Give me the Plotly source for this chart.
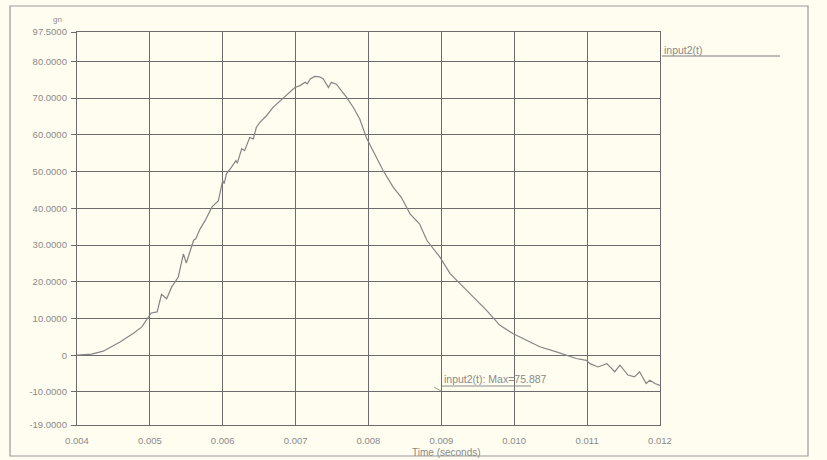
import plotly.graph_objects as go

# Time (seconds) and acceleration (gn)
time_s = [0.00400, 0.00420, 0.00436, 0.00459, 0.00477, 0.00489, 0.00498, 0.00502, 0.00510, 0.00516,
          0.00523, 0.00530, 0.00539, 0.00546, 0.00550, 0.00560, 0.00563, 0.00569, 0.00576, 0.00585,
          0.00594, 0.00597, 0.00600, 0.00602, 0.00605, 0.00612, 0.00618, 0.00620, 0.00626, 0.00630,
          0.00637, 0.00642, 0.00646, 0.00651, 0.00660, 0.00669, 0.00681, 0.00690, 0.00699, 0.00706,
          0.00713, 0.00716, 0.00720, 0.00726, 0.00733, 0.00738, 0.00745, 0.00749, 0.00756, 0.00763,
          0.00770, 0.00779, 0.00788, 0.00797, 0.00809, 0.00820, 0.00834, 0.00845, 0.00857, 0.00870,
          0.00880, 0.00898, 0.00912, 0.00925, 0.00944, 0.00962, 0.00980, 0.00998, 0.01017, 0.01035,
          0.01058, 0.01072, 0.01085, 0.01099, 0.01104, 0.01115, 0.01127, 0.01138, 0.01145, 0.01156,
          0.01165, 0.01172, 0.01181, 0.01186, 0.01193, 0.01200]
accel_gn = [0.0, 0.3, 1.1, 3.6, 5.9, 7.7, 10.4, 11.5, 11.8, 16.6,
            15.4, 18.6, 21.3, 27.6, 25.1, 31.3, 31.7, 34.4, 36.7, 40.3,
            42.1, 45.3, 47.6, 46.7, 49.4, 51.2, 53.0, 52.3, 56.2, 55.7,
            59.3, 58.9, 62.0, 63.4, 65.2, 67.5, 69.7, 71.5, 72.9, 73.4,
            74.3, 73.9, 75.2, 75.9, 75.8, 75.2, 72.9, 74.3, 73.8, 72.0,
            70.2, 67.5, 64.3, 59.3, 54.8, 50.3, 45.7, 43.0, 38.5, 35.8,
            31.3, 26.7, 22.2, 19.5, 15.8, 12.2, 8.2, 5.9, 4.1, 2.3,
            0.9, 0.0, -0.9, -1.4, -2.3, -3.2, -2.3, -4.5, -2.7, -5.4,
            -5.9, -4.5, -7.7, -6.8, -7.7, -8.2]

x_tick_vals = [0.004, 0.005, 0.006, 0.007, 0.008, 0.009, 0.010, 0.011, 0.012]
x_tick_text = ["0.004", "0.005", "0.006", "0.007", "0.008", "0.009", "0.010", "0.011", "0.012"]
y_tick_vals = [-19, -10, 0, 10, 20, 30, 40, 50, 60, 70, 80, 88]
y_tick_text = ["-19.0000", "-10.0000", "0", "10.0000", "20.0000", "30.0000", "40.0000",
               "50.0000", "60.0000", "70.0000", "80.0000", "97.5000"]

series_name = "input2(t)"
max_label = "input2(t): Max=75.887"

BG = "#fffdf0"
GRID = "#6c6c6c"
FAM = "Liberation Sans, Arial, sans-serif"
FONT = dict(family=FAM, size=9.5, color="#8a8a8a")

fig = go.Figure()
fig.add_trace(go.Scatter(x=time_s, y=accel_gn, mode="lines", name=series_name,
                         line=dict(color="#858585", width=1.2), showlegend=False))

fig.update_layout(
    width=827, height=460,
    margin=dict(l=77, r=167, t=32, b=35),
    paper_bgcolor=BG, plot_bgcolor=BG,
    font=FONT,
)
fig.update_xaxes(range=[0.004, 0.012], tickvals=x_tick_vals, ticktext=x_tick_text,
                 showgrid=True, gridcolor=GRID, gridwidth=1.3, zeroline=False,
                 showline=True, linecolor=GRID, linewidth=1.3, mirror=True,
                 ticks="", ticklabelstandoff=6, tickfont=FONT)
fig.update_yaxes(range=[-19, 88], tickvals=y_tick_vals, ticktext=y_tick_text,
                 showgrid=True, gridcolor=GRID, gridwidth=1.3, zeroline=False,
                 showline=True, linecolor=GRID, linewidth=1.3, mirror=True,
                 ticks="outside", ticklen=5, tickcolor=GRID, ticklabelstandoff=2, tickfont=FONT)

def px_x(px):
    return (px - 77) / 583.0

def px_y(py):
    return (425 - py) / 393.0

annotations = [
    dict(text="gn", x=px_x(57), y=px_y(20), xref="paper", yref="paper", showarrow=False,
         xanchor="center", yanchor="middle", font=dict(family=FAM, size=8, color="#8a8a8a")),
    dict(text="Time (seconds)", x=px_x(446), y=px_y(452), xref="paper", yref="paper", showarrow=False,
         xanchor="center", yanchor="middle", font=dict(family=FAM, size=10, color="#8a8a8a")),
    dict(text=series_name, x=px_x(662), y=px_y(50), xref="paper", yref="paper", showarrow=False,
         xanchor="left", yanchor="middle", font=dict(family=FAM, size=10.5, color="#8a8a8a")),
    dict(text=max_label, x=px_x(442), y=px_y(379), xref="paper", yref="paper", showarrow=False,
         xanchor="left", yanchor="middle", font=dict(family=FAM, size=10.5, color="#8a8a8a")),
]
fig.update_layout(annotations=annotations)

shapes = [
    # outer frame
    dict(type="rect", xref="paper", yref="paper", x0=px_x(10), x1=px_x(808), y0=px_y(456), y1=px_y(6),
         line=dict(color="#9a9a9a", width=1.2), fillcolor="rgba(0,0,0,0)", layer="below"),
    # legend underline
    dict(type="line", xref="paper", yref="paper", x0=px_x(662), x1=px_x(780), y0=px_y(56), y1=px_y(56),
         line=dict(color="#7a7a7a", width=1)),
    # max label underline
    dict(type="line", xref="paper", yref="paper", x0=px_x(442), x1=px_x(531), y0=px_y(386), y1=px_y(386),
         line=dict(color="#8a8a8a", width=1)),
    dict(type="line", xref="paper", yref="paper", x0=px_x(434), x1=px_x(441), y0=px_y(387), y1=px_y(391),
         line=dict(color="#9a9a9a", width=1)),
]
fig.update_layout(shapes=shapes)

fig.write_html("out.html", config={"displayModeBar": False},
               post_script="document.body.style.margin='0px';document.body.style.background='#fffdf0';")
